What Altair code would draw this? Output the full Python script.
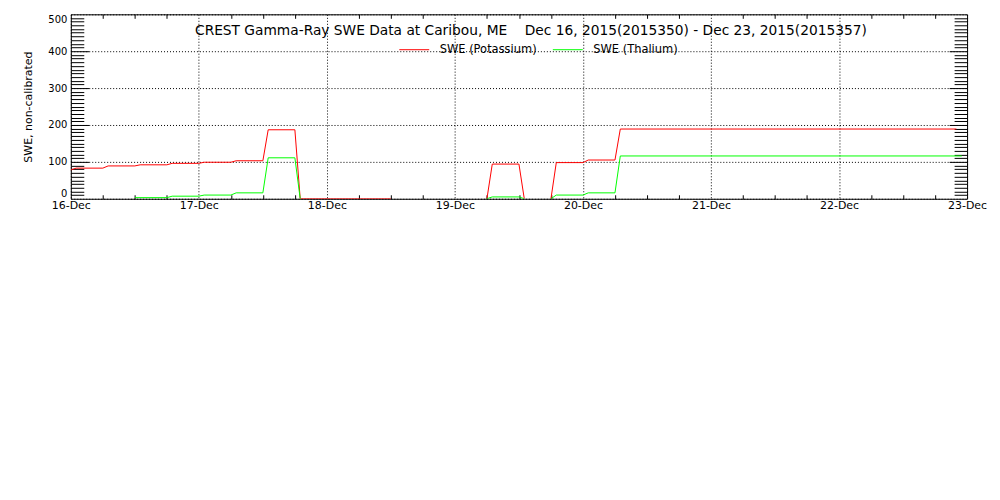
import json
import altair as alt
import pandas as pd

# Hours since 16-Dec-2015 00:00
K_HOURS = [0, 1, 6, 7, 12, 13, 18, 19, 24, 25, 30, 31, 36, 37, 42, 43, 60,
           78, 79, 84, 85,
           90, 91, 96, 97, 102, 103, 166]
K_VALUES = [78, 83, 83, 89, 89, 92, 92, 96, 96, 99, 99, 103, 103, 187, 187, 0, 0,
            0, 94, 94, 0,
            0, 98, 98, 105, 105, 189, 189]
K_SEG = [1] * 17 + [2] * 4 + [3] * 7

T_HOURS = [12, 18, 19, 24, 25, 30, 31, 36, 37, 42, 43,
           78, 79, 84, 85,
           90, 91, 96, 97, 102, 103, 167]
T_VALUES = [3, 3, 7, 7, 10, 10, 16, 16, 111, 111, 0,
            0, 5, 5, 0,
            0, 10, 10, 16, 16, 116, 116]
T_SEG = [1] * 11 + [2] * 4 + [3] * 7

SERIES = ["SWE (Potassium)", "SWE (Thalium)"]
COLORS = ["#ff0000", "#00ff00"]

DAY_LABELS = ["16-Dec", "17-Dec", "18-Dec", "19-Dec", "20-Dec", "21-Dec", "22-Dec", "23-Dec"]
DAY_HOURS = [0, 24, 48, 72, 96, 120, 144, 168]
X_MINOR = [h for h in range(0, 169, 6) if h % 24]
Y_MAJOR = [0, 100, 200, 300, 400, 500]
Y_MAJOR_TICKS = [100, 200, 300, 400]
Y_MINOR = [v for v in range(10, 500, 10) if v % 100]

TITLE = ("CREST Gamma-Ray SWE Data at Caribou, ME\u00a0\u00a0\u00a0 Dec 16, 2015(2015350) - "
         "Dec 23, 2015(2015357)")

rows = []
for h, v, s in zip(K_HOURS, K_VALUES, K_SEG):
    rows.append({"h": h, "v": v, "series": SERIES[0], "seg": f"K{s}"})
for h, v, s in zip(T_HOURS, T_VALUES, T_SEG):
    rows.append({"h": h, "v": v, "series": SERIES[1], "seg": f"T{s}"})
df = pd.DataFrame(rows)

FONT = "DejaVu Sans"
xs = alt.Scale(domain=[0, 168], nice=False, zero=False)
ys = alt.Scale(domain=[0, 500], nice=False, zero=False)
base = alt.Chart(df)

label_expr = f"{json.dumps(DAY_LABELS)}[round(datum.value / 24)]"

lines = base.mark_line(strokeWidth=1, clip=True).encode(
    x=alt.X("h:Q", scale=xs, axis=alt.Axis(
        orient="bottom", values=DAY_HOURS, labelExpr=label_expr, grid=True,
        ticks=False, tickSize=0, domain=False, labelPadding=1, labelFontSize=11,
        labelFlush=False, title=None, gridColor="black", gridDash=[1, 2],
        gridOpacity=1, gridWidth=1)),
    y=alt.Y("v:Q", scale=ys, axis=alt.Axis(
        orient="left", values=Y_MAJOR, grid=True, ticks=False, tickSize=0,
        domain=False, labelPadding=4, labelFontSize=10, labelFlush=True,
        title="SWE, non-calibrated", titleFontSize=11, titlePadding=14,
        titleFontWeight="normal", gridColor="black", gridDash=[1, 2],
        gridOpacity=1, gridWidth=1)),
    color=alt.Color("series:N", scale=alt.Scale(domain=SERIES, range=COLORS),
                    legend=alt.Legend(orient="none", legendX=329, legendY=20,
                                      direction="horizontal", title=None,
                                      symbolType="stroke", symbolSize=900,
                                      symbolStrokeWidth=1, labelOffset=10,
                                      columnPadding=13, labelFontSize=11.5,
                                      labelFont=FONT, labelColor="black",
                                      padding=0)),
    detail="seg:N",
    order="h:Q",
)


def tick_layer(x_axis=None, y_axis=None):
    return base.mark_point(opacity=0).encode(
        x=alt.X("h:Q", scale=xs, axis=x_axis),
        y=alt.Y("v:Q", scale=ys, axis=y_axis),
    )


def tick_axis(orient, values, size):
    return alt.Axis(orient=orient, values=values, tickSize=size, offset=-size,
                    ticks=True, labels=False, domain=False, grid=False,
                    title=None, tickColor="black", tickWidth=1)


layers = [
    lines,
    tick_layer(x_axis=tick_axis("top", X_MINOR, 4)),
    tick_layer(x_axis=tick_axis("bottom", X_MINOR, 4)),
    tick_layer(y_axis=tick_axis("left", Y_MINOR, 13)),
    tick_layer(y_axis=tick_axis("left", Y_MAJOR_TICKS, 18)),
    tick_layer(y_axis=tick_axis("right", Y_MINOR, 13)),
    tick_layer(y_axis=tick_axis("right", Y_MAJOR_TICKS, 18)),
]

chart = alt.layer(*layers).resolve_axis(
    x="independent", y="independent"
).properties(
    width=899, height=185,
    autosize=alt.AutoSizeParams(type="none"),
    padding={"left": 63, "top": 6, "right": 25, "bottom": 30},
    title=alt.TitleParams(TITLE, anchor="middle", fontSize=13.8, font=FONT,
                          fontWeight="normal", color="black", offset=-24, dx=12),
).configure_view(
    stroke="black", strokeWidth=1
).configure_axis(
    labelFont=FONT, titleFont=FONT, labelColor="black", titleColor="black",
    titleFontWeight="normal",
)

chart.save("out.html", embed_options={"renderer": "svg", "actions": False})
